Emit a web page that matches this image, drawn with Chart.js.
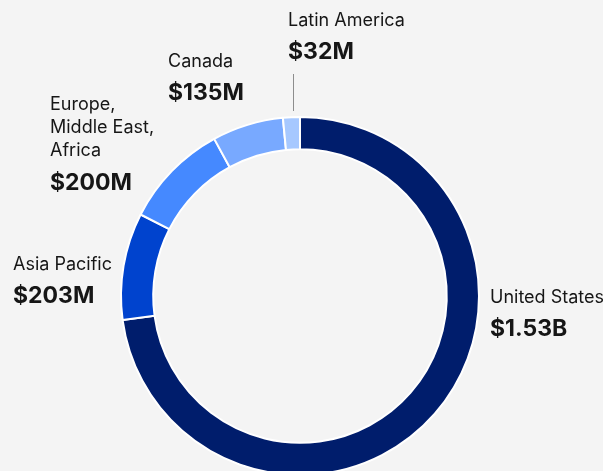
<!DOCTYPE html>
<html>
<head>
<meta charset="utf-8">
<script src="https://cdn.jsdelivr.net/npm/chart.js"></script>
<style>
    html, body { margin: 0; padding: 0; background: #f4f4f4; overflow: hidden; }
    #wrap { position: relative; width: 603px; height: 480px; }
</style>
</head>
<body>
<div id="wrap"><canvas id="revenueChart"></canvas></div>
<script>
    // Revenue by region, in millions of dollars
    const regions = ['United States', 'Asia Pacific', 'Europe, Middle East, Africa', 'Canada', 'Latin America'];
    const revenue = [1530, 203, 200, 135, 32];
    const colors = ['#001d6c', '#0043ce', '#4589ff', '#78a9ff', '#a6c8ff'];

    function formatMoney(v) {
        return v >= 1000 ? '$' + (v / 1000).toFixed(2) + 'B' : '$' + v + 'M';
    }

    // label blocks: left x, baseline of first name line, name lines
    const labelLayout = [
        { x: 490, y: 303, lines: ['United States'] },
        { x: 13, y: 270, lines: ['Asia Pacific'] },
        { x: 50, y: 110, lines: ['Europe,', 'Middle East,', 'Africa'] },
        { x: 168, y: 67, lines: ['Canada'] },
        { x: 288, y: 26, lines: ['Latin America'], leader: [293, 74, 111] }
    ];

    const regionLabels = {
        id: 'regionLabels',
        afterDraw(chart) {
            const ctx = chart.ctx;
            ctx.save();
            ctx.textAlign = 'left';
            ctx.textBaseline = 'alphabetic';
            labelLayout.forEach(function(l, i) {
                ctx.fillStyle = '#161616';
                ctx.font = '18px Inter';
                let y = l.y;
                l.lines.forEach(function(line, k) {
                    ctx.fillText(line, l.x, y);
                    if (k < l.lines.length - 1) y += 23;
                });
                ctx.font = 'bold 23px Inter';
                ctx.fillText(formatMoney(revenue[i]), l.x, y + (l.lines.length > 1 ? 34 : 33));
                if (l.leader) {
                    ctx.strokeStyle = '#8d8d8d';
                    ctx.lineWidth = 1;
                    ctx.beginPath();
                    ctx.moveTo(l.leader[0] + 0.5, l.leader[1]);
                    ctx.lineTo(l.leader[0] + 0.5, l.leader[2]);
                    ctx.stroke();
                }
            });
            ctx.restore();
        }
    };

    const ctx = document.getElementById('revenueChart').getContext('2d');
    new Chart(ctx, {
        type: 'doughnut',
        data: {
            labels: regions,
            datasets: [{
                data: revenue,
                backgroundColor: colors,
                borderColor: '#ffffff',
                borderWidth: 2
            }]
        },
        options: {
            responsive: true,
            maintainAspectRatio: false,
            animation: false,
            cutout: '82%',
            layout: {
                padding: { left: 120, right: 123, top: 116, bottom: 4 }
            },
            plugins: {
                legend: { display: false },
                tooltip: { enabled: false }
            }
        },
        plugins: [regionLabels]
    });
</script>
</body>
</html>
